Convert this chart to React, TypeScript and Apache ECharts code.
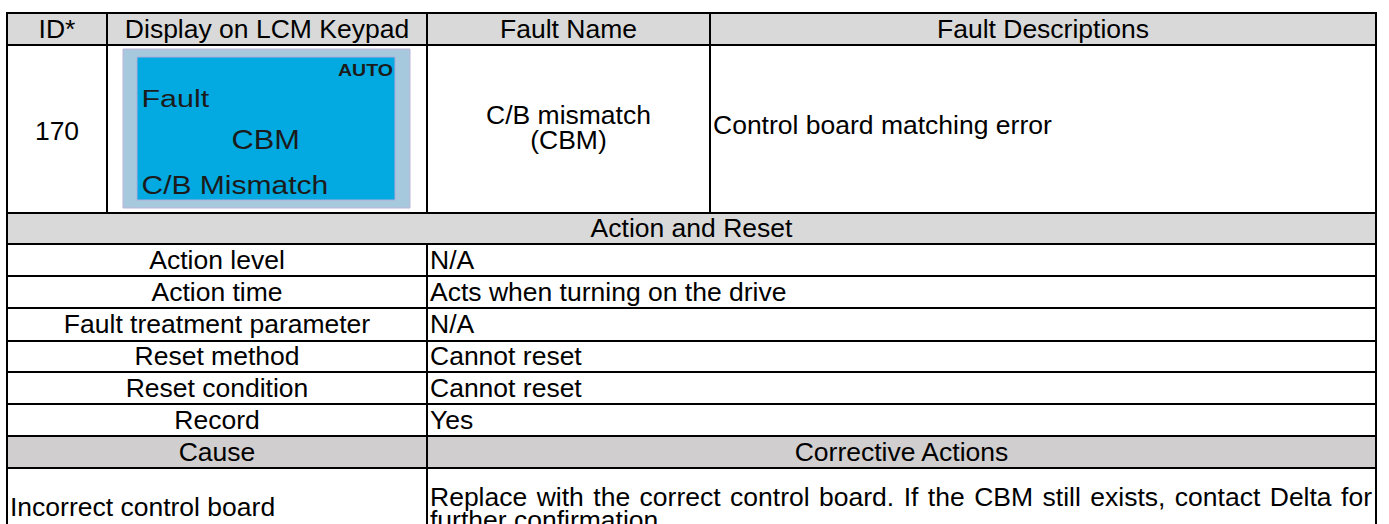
import React, { useEffect, useRef } from "react";
import * as echarts from "echarts";

// ---- Table content ----
const headerLabels = ["ID*", "Display on LCM Keypad", "Fault Name", "Fault Descriptions"];
const faultId = "170";
const lcdLines = ["AUTO", "Fault", "CBM", "C/B Mismatch"];
const faultNameLines = ["C/B mismatch", "(CBM)"];
const faultDescription = "Control board matching error";
const sectionTitle = "Action and Reset";
const actionLabels = [
  "Action level",
  "Action time",
  "Fault treatment parameter",
  "Reset method",
  "Reset condition",
  "Record",
];
const actionValues = [
  "N/A",
  "Acts when turning on the drive",
  "N/A",
  "Cannot reset",
  "Cannot reset",
  "Yes",
];
const causeHeaders = ["Cause", "Corrective Actions"];
const causeText = "Incorrect control board";
const correctiveLines = [
  "Replace with the correct control board. If the CBM still exists, contact Delta for",
  "further confirmation.",
];

// ---- Layout ----
const W = 1389;
const H = 524;
const FONT = "'Liberation Sans', Arial, Helvetica, sans-serif";
const FS = 26.5;
const XL = 7;
const XR = 1376;
const COLS = [7, 107, 427, 710, 1376];
const HEAD_Y = [13, 44.5, 212.5];
const ROW_Y = [212.5, 244, 276.3, 308.3, 340.5, 372.2, 404, 435.8, 467.6, 560];

function measure(text: string, size: number, weight = "normal") {
  const c = document.createElement("canvas").getContext("2d")!;
  c.font = `${weight} ${size}px ${FONT}`;
  return c.measureText(text).width;
}

function txt(text: string, x: number, y: number, align = "center", extra: any = {}) {
  const { fontSize = FS, fontWeight = "normal", fill = "#000", scaleX = 1 } = extra;
  return {
    type: "text",
    x,
    y,
    scaleX,
    silent: true,
    z: 10,
    style: {
      text,
      x: 0,
      y: 0,
      fontSize,
      fontFamily: FONT,
      fontWeight,
      fill,
      align,
      verticalAlign: "middle",
    },
  };
}

function hline(x1: number, x2: number, y: number, w = 2) {
  return {
    type: "line",
    silent: true,
    z: 5,
    shape: { x1, y1: Math.round(y), x2, y2: Math.round(y) },
    style: { stroke: "#000", lineWidth: w },
  };
}
function vline(x: number, y1: number, y2: number, w = 2) {
  return {
    type: "line",
    silent: true,
    z: 5,
    shape: { x1: Math.round(x), y1: Math.round(y1), x2: Math.round(x), y2: Math.round(y2) },
    style: { stroke: "#000", lineWidth: w },
  };
}
function rect(x: number, y: number, w: number, h: number, fill: string, stroke?: string) {
  return {
    type: "rect",
    silent: true,
    z: 1,
    shape: { x, y, width: w, height: h },
    style: { fill, stroke: stroke || null, lineWidth: stroke ? 1 : 0 },
  };
}

function buildElements() {
  const els: any[] = [];
  const mid = (a: number, b: number) => (a + b) / 2;

  // gray backgrounds
  els.push(rect(XL, HEAD_Y[0], XR - XL, HEAD_Y[1] - HEAD_Y[0], "#d9d9d9"));
  els.push(rect(XL, ROW_Y[0], XR - XL, ROW_Y[1] - ROW_Y[0], "#d9d9d9"));
  els.push(rect(XL, ROW_Y[7], XR - XL, ROW_Y[8] - ROW_Y[7], "#d0cece"));

  // LCD display
  els.push(rect(123, 49, 287, 159, "#a6c9dd", "#bdb4dc"));
  els.push(rect(137, 57, 258, 143, "#03a9e1", "#b3abd9"));

  // lines: horizontal
  els.push(hline(XL - 1, XR + 1, HEAD_Y[0], 2));
  els.push(hline(XL, XR, HEAD_Y[1], 2));
  els.push(hline(XL, XR, HEAD_Y[2], 2));
  for (let i = 1; i < ROW_Y.length - 1; i++) els.push(hline(XL, XR, ROW_Y[i], 2));
  // outer verticals
  els.push(vline(XL, HEAD_Y[0], H + 10, 2));
  els.push(vline(XR, HEAD_Y[0], H + 10, 2));
  // header verticals
  for (let i = 1; i < COLS.length - 1; i++) els.push(vline(COLS[i], HEAD_Y[0], HEAD_Y[2], 2));
  // lower split
  els.push(vline(COLS[2], ROW_Y[1], H + 10, 2));

  // header texts
  for (let i = 0; i < headerLabels.length; i++) {
    els.push(txt(headerLabels[i], mid(COLS[i], COLS[i + 1]), mid(HEAD_Y[0], HEAD_Y[1])));
  }
  const r1 = mid(HEAD_Y[1], HEAD_Y[2]);
  els.push(txt(faultId, mid(COLS[0], COLS[1]), r1 + 2));
  els.push(txt(faultNameLines[0], mid(COLS[2], COLS[3]), r1 - 14));
  els.push(txt(faultNameLines[1], mid(COLS[2], COLS[3]), r1 + 11));
  els.push(txt(faultDescription, COLS[3] + 3, r1 - 4, "left"));

  // LCD texts
  const lcdSpec = [
    { x: 393, y: 70.5, align: "right", size: 16.5, weight: "bold", width: 55 },
    { x: 141.5, y: 99, align: "left", size: 24, weight: "normal", width: 67.7 },
    { x: 231.5, y: 139.5, align: "left", size: 27, weight: "normal", width: 68.3 },
    { x: 141.5, y: 185, align: "left", size: 25.5, weight: "normal", width: 186.7 },
  ];
  lcdLines.forEach((s, i) => {
    const sp = lcdSpec[i];
    const m = measure(s, sp.size, sp.weight);
    els.push(
      txt(s, sp.x, sp.y, sp.align, {
        fontSize: sp.size,
        fontWeight: sp.weight,
        fill: "#1b1b1b",
        scaleX: m > 0 ? sp.width / m : 1,
      })
    );
  });

  // Action and reset
  els.push(txt(sectionTitle, mid(XL, XR), mid(ROW_Y[0], ROW_Y[1])));
  for (let i = 0; i < actionLabels.length; i++) {
    const y = mid(ROW_Y[i + 1], ROW_Y[i + 2]);
    els.push(txt(actionLabels[i], mid(COLS[0], COLS[2]), y));
    els.push(txt(actionValues[i], COLS[2] + 3, y, "left"));
  }

  // Cause header
  const cy = mid(ROW_Y[7], ROW_Y[8]);
  els.push(txt(causeHeaders[0], mid(COLS[0], COLS[2]), cy));
  els.push(txt(causeHeaders[1], mid(COLS[2], XR), cy));

  // Cause row
  els.push(txt(causeText, XL + 3, 507, "left"));
  // justified first line
  const words = correctiveLines[0].split(" ");
  const widths = words.map((w) => measure(w, FS));
  const left = COLS[2] + 3;
  const right = XR - 4;
  const gap = (right - left - widths.reduce((a, b) => a + b, 0)) / (words.length - 1);
  let x = left;
  words.forEach((w, i) => {
    els.push(txt(w, x, 497, "left"));
    x += widths[i] + gap;
  });
  els.push(txt(correctiveLines[1], left, 520, "left"));

  return els;
}

export default function App() {
  const ref = useRef<HTMLDivElement>(null);
  useEffect(() => {
    if (!ref.current) return;
    const chart = echarts.init(ref.current, undefined, { renderer: "svg", width: W, height: H });
    chart.setOption({
      animation: false,
      backgroundColor: "#ffffff",
      graphic: { elements: buildElements() },
    });
    return () => chart.dispose();
  }, []);
  return (
    <div
      ref={ref}
      style={{ position: "fixed", left: 0, top: 0, width: W, height: H, background: "#fff" }}
    />
  );
}
